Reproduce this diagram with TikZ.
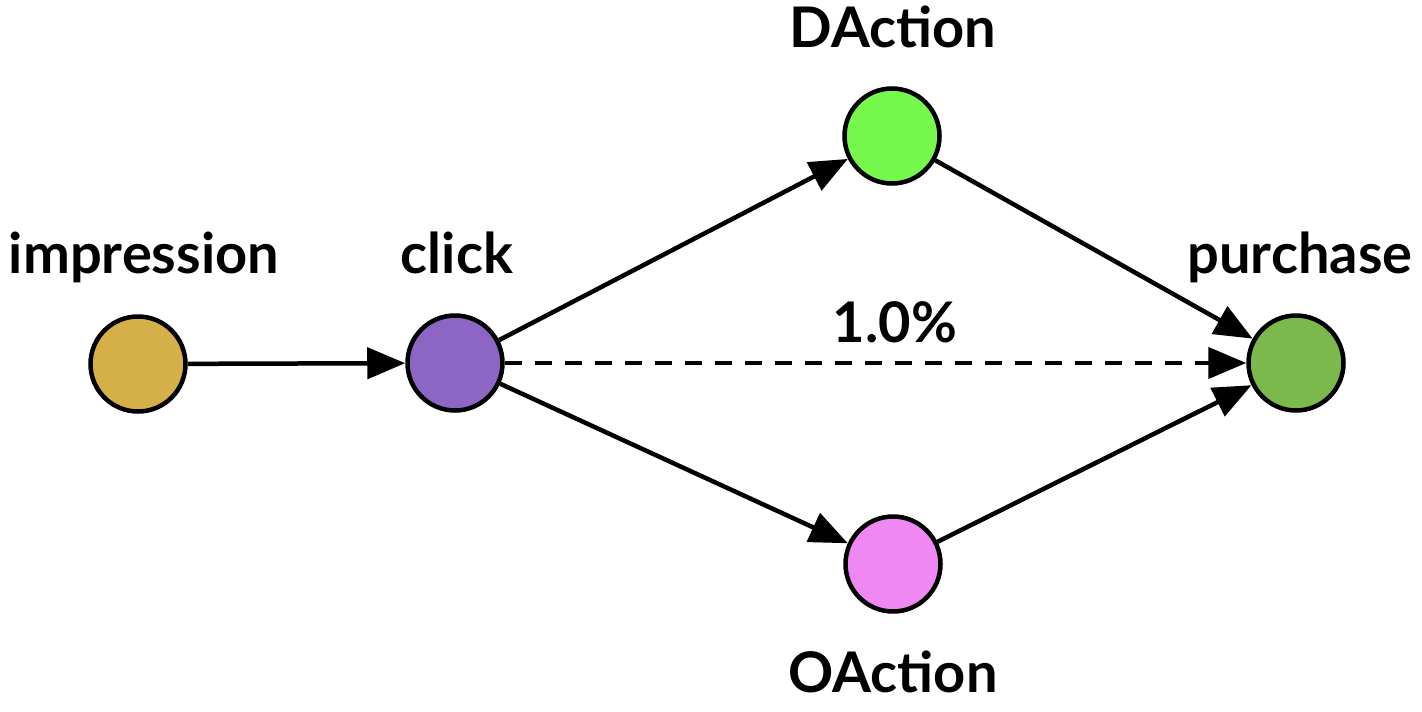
\documentclass[tikz,border=0pt]{standalone}
\usepackage{fontspec}
\setmainfont{Lato}
\usetikzlibrary{arrows.meta}
\definecolor{cImp}{HTML}{D5AF47}
\definecolor{cClick}{HTML}{8D65C5}
\definecolor{cD}{HTML}{74F94C}
\definecolor{cO}{HTML}{EF88F3}
\definecolor{cP}{HTML}{7BB94C}
\tikzset{
  state/.style={circle,draw=black,line width=4.5pt,minimum size=95pt,inner sep=0pt},
  lbl/.style={anchor=base,font=\fontsize{56}{64}\selectfont\bfseries,inner sep=0pt},
  conn/.style={line width=4.5pt,-{Triangle[length=38pt,width=31pt]}},
  dconn/.style={conn,dash pattern=on 17pt off 13pt},
}
\begin{document}
\begin{tikzpicture}[x=1pt,y=-1pt]
\useasboundingbox (0,0) rectangle (1422,712);
\node[state,fill=cImp] (imp) at (138,364) {};
\node[state,fill=cClick] (clk) at (455,363) {};
\node[state,fill=cD] (da) at (892,136) {};
\node[state,fill=cO] (oa) at (893,564) {};
\node[state,fill=cP] (pur) at (1296,363) {};
\node[lbl] (limp) at (144,273) {impression};
\node[lbl] (lclk) at (457,273) {click};
\node[lbl] (lda) at (893,47) {DAction};
\node[lbl] (loa) at (893,692) {OAction};
\node[lbl] (lpur) at (1300,273) {purchase};
\node[lbl] (lpct) at (895,342) {1.0\%};
\draw[conn] (imp) -- (clk);
\draw[conn] (clk) -- (da);
\draw[conn] (clk) -- (oa);
\draw[conn] (da) -- (pur);
\draw[conn] (oa) -- (pur);
\draw[dconn] (clk) -- (pur);
\end{tikzpicture}
\end{document}
